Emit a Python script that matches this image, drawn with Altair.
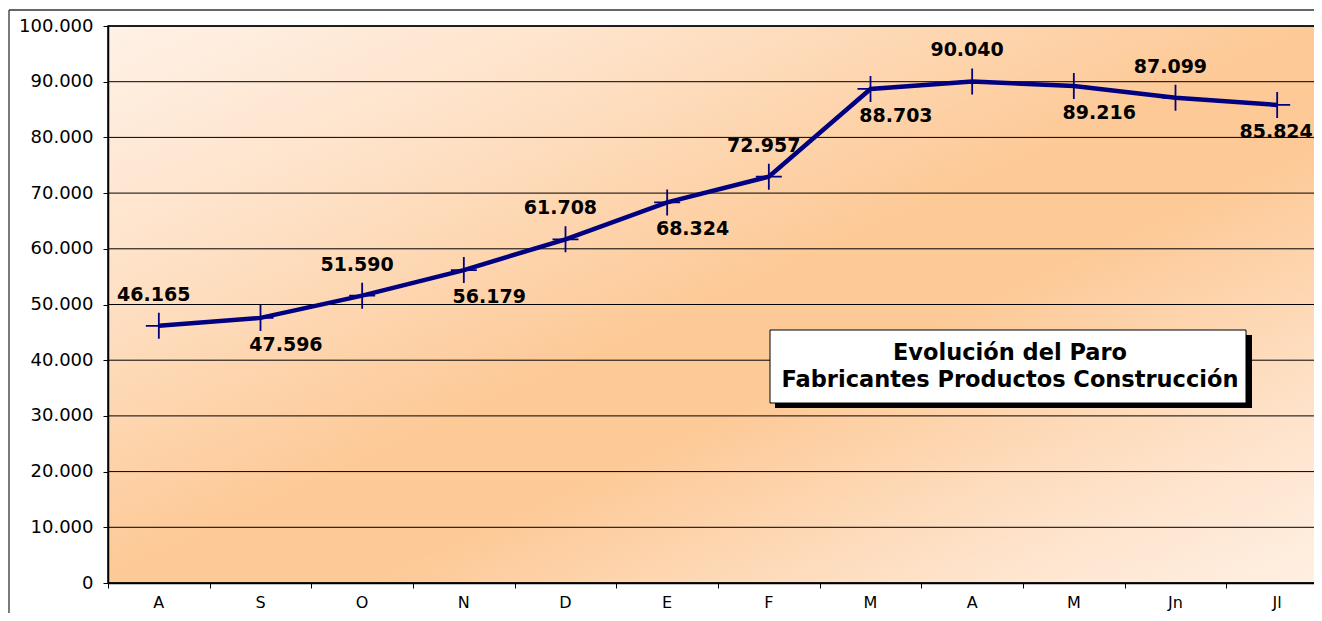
import altair as alt
import pandas as pd

# ---- data ----
months = ["A", "S", "O", "N", "D", "E", "F", "M", "A", "M", "Jn", "Jl"]
paro = [46165, 47596, 51590, 56179, 61708, 68324, 72957, 88703, 90040, 89216, 87099, 85824]
y_ticks = [0, 10000, 20000, 30000, 40000, 50000, 60000, 70000, 80000, 90000, 100000]
title_lines = ["Evolución del Paro", "Fabricantes Productos Construcción"]

W, H = 1220, 557
NAVY = "#000080"
FONT = "DejaVu Sans"
n = len(months)

df = pd.DataFrame({"idx": list(range(n)), "mes": months, "paro": paro})
df["pos"] = ["above" if i % 2 == 0 else "below" for i in range(n)]
grid_df = pd.DataFrame({"paro": y_ticks})
one = pd.DataFrame({"k": [0]})

fmt_expr = "replace(format(datum.value, ','), ',', '.')"
band_edges = [i - 0.5 for i in range(n + 1)]

y_scale = alt.Scale(domain=[0, 100000], nice=False, zero=True)
y_axis = alt.Axis(values=y_ticks, grid=False, title=None, labelExpr=fmt_expr,
                  tickSize=5, tickColor="black", domainColor="black", domainWidth=1.5,
                  labelFont=FONT, labelFontSize=18, labelColor="black",
                  labelPadding=10, zindex=1)
x_scale = alt.Scale(domain=[-0.5, n - 0.5], nice=False, zero=False)
x_axis = alt.Axis(title=None, values=band_edges, labels=False, grid=False,
                  tickSize=5, tickColor="black", domainColor="black", domainWidth=1.5,
                  zindex=1)

X = alt.X("idx:Q", scale=x_scale, axis=x_axis)
Y = alt.Y("paro:Q", scale=y_scale, axis=y_axis)

gradient = alt.LinearGradient(
    gradient="linear", x1=0, y1=0, x2=1, y2=1,
    stops=[
        alt.GradientStop(color="#fff1e6", offset=0.0),
        alt.GradientStop(color="#fee4cc", offset=0.2),
        alt.GradientStop(color="#fdc996", offset=0.5),
        alt.GradientStop(color="#fdc996", offset=0.6),
        alt.GradientStop(color="#fee4cd", offset=0.85),
        alt.GradientStop(color="#fff0e3", offset=1.0),
    ],
)

bg = alt.Chart(one).mark_rect(color=gradient, stroke="black", strokeWidth=1.5).encode(
    x=alt.value(0), x2=alt.value(W), y=alt.value(0), y2=alt.value(H)
)

grid = alt.Chart(grid_df).mark_rule(color="black", strokeWidth=1).encode(
    y=Y, x=alt.value(0), x2=alt.value(W)
)

base = alt.Chart(df).transform_calculate(
    lab="replace(format(datum.paro, ','), ',', '.')",
    lx="min(datum.idx + (datum.pos == 'above' ? -0.05 : 0.25), %s)" % (n - 1 - 0.01),
)

line = base.mark_line(color=NAVY, strokeWidth=4.5).encode(x=X, y=Y)
pts = base.mark_point(shape="M-1,0H1M0,-1V1", size=676, filled=False,
                      stroke=NAVY, strokeWidth=1.8, opacity=1).encode(x=X, y=Y)

LX = alt.X("lx:Q", scale=x_scale, axis=x_axis)
txt_style = dict(font=FONT, fontWeight="bold", fontSize=19, color="black")
lab_above = base.transform_filter("datum.pos == 'above'").mark_text(
    dy=-31, **txt_style).encode(x=LX, y=Y, text="lab:N")
lab_below = base.transform_filter("datum.pos == 'below'").mark_text(
    dy=27, **txt_style).encode(x=LX, y=Y, text="lab:N")

month_labels = alt.Chart(df).mark_text(font=FONT, fontSize=16, color="black",
                                       baseline="middle").encode(
    x=X, y=alt.value(H + 20), text="mes:N")

shadow = alt.Chart(one).mark_rect(color="black").encode(
    x=alt.value(667), x2=alt.value(1144), y=alt.value(309), y2=alt.value(382))
box = alt.Chart(one).mark_rect(fill="white", stroke="black", strokeWidth=1).encode(
    x=alt.value(662), x2=alt.value(1138), y=alt.value(304), y2=alt.value(377))
box_text = alt.Chart(one).mark_text(font=FONT, fontWeight="bold", fontSize=22.5,
                                    color="black", align="center", baseline="middle",
                                    lineHeight=27).encode(
    x=alt.value(902), y=alt.value(327), text=alt.value(title_lines))

outer_left = alt.Chart(one).mark_rule(color="#333333", strokeWidth=1.3).encode(
    x=alt.value(-99), y=alt.value(-16), y2=alt.value(H + 100))
outer_top = alt.Chart(one).mark_rule(color="#333333", strokeWidth=1.3).encode(
    x=alt.value(-99), x2=alt.value(W + 100), y=alt.value(-16))

chart = alt.layer(bg, grid, line, pts, lab_above, lab_below, month_labels,
                  shadow, box, box_text, outer_left, outer_top).properties(
    width=W, height=H,
    autosize="none",
    padding={"left": 100, "top": 18, "right": -14, "bottom": 30},
    background="white",
).configure_view(stroke=None)

chart.save("out.html", embed_options={"renderer": "svg", "actions": False})
